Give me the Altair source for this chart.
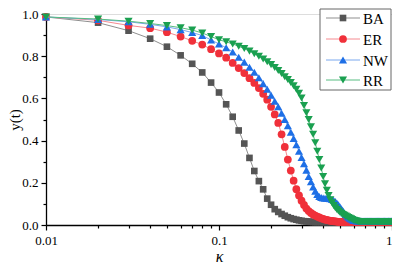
import altair as alt
import pandas as pd

kappa = [0.01, 0.02, 0.03, 0.04, 0.05, 0.06, 0.07, 0.08, 0.09, 0.10,
         0.11, 0.12, 0.13, 0.14, 0.15, 0.16, 0.17, 0.18, 0.19, 0.20,
         0.21, 0.22, 0.23, 0.24, 0.25, 0.26, 0.27, 0.28, 0.29, 0.30,
         0.31, 0.32, 0.33, 0.34, 0.35, 0.36, 0.37, 0.38, 0.39, 0.40,
         0.41, 0.42, 0.43, 0.44, 0.45, 0.46, 0.47, 0.48, 0.49, 0.50,
         0.51, 0.52, 0.53, 0.54, 0.55, 0.56, 0.57, 0.58, 0.59, 0.60,
         0.61, 0.62, 0.63, 0.64, 0.65, 0.66, 0.67, 0.68, 0.69, 0.70,
         0.71, 0.72, 0.73, 0.74, 0.75, 0.76, 0.77, 0.78, 0.79, 0.80,
         0.81, 0.82, 0.83, 0.84, 0.85, 0.86, 0.87, 0.88, 0.89, 0.90,
         0.91, 0.92, 0.93, 0.94, 0.95, 0.96, 0.97, 0.98, 0.99, 1.00]

ba = [0.986, 0.959, 0.921, 0.883, 0.845, 0.804, 0.764, 0.723, 0.675, 0.628,
      0.572, 0.513, 0.448, 0.386, 0.318, 0.256, 0.208, 0.169, 0.125, 0.096,
      0.075, 0.062, 0.052, 0.044, 0.037, 0.032, 0.028, 0.025, 0.022, 0.020,
      0.018, 0.017, 0.016, 0.015, 0.014, 0.014, 0.014, 0.014, 0.014, 0.014,
      0.014, 0.014, 0.014, 0.014, 0.014, 0.014, 0.014, 0.014, 0.014, 0.014,
      0.014, 0.014, 0.014, 0.014, 0.014, 0.014, 0.014, 0.014, 0.014, 0.014,
      0.014, 0.014, 0.014, 0.014, 0.014, 0.014, 0.014, 0.014, 0.014, 0.014,
      0.014, 0.014, 0.014, 0.014, 0.014, 0.014, 0.014, 0.014, 0.014, 0.014,
      0.014, 0.014, 0.014, 0.014, 0.014, 0.014, 0.014, 0.014, 0.014, 0.014,
      0.014, 0.014, 0.014, 0.014, 0.014, 0.014, 0.014, 0.014, 0.014, 0.014]

er = [0.986, 0.970, 0.946, 0.933, 0.914, 0.893, 0.873, 0.855, 0.833, 0.813,
      0.793, 0.768, 0.744, 0.720, 0.696, 0.673, 0.649, 0.622, 0.594, 0.560,
      0.524, 0.484, 0.430, 0.370, 0.310, 0.258, 0.210, 0.170, 0.140, 0.115,
      0.095, 0.078, 0.066, 0.057, 0.050, 0.045, 0.040, 0.036, 0.032, 0.029,
      0.026, 0.024, 0.022, 0.020, 0.019, 0.018, 0.017, 0.016, 0.015, 0.014,
      0.014, 0.014, 0.014, 0.014, 0.014, 0.014, 0.014, 0.014, 0.014, 0.014,
      0.014, 0.014, 0.014, 0.014, 0.014, 0.014, 0.014, 0.014, 0.014, 0.014,
      0.014, 0.014, 0.014, 0.014, 0.014, 0.014, 0.014, 0.014, 0.014, 0.014,
      0.014, 0.014, 0.014, 0.014, 0.014, 0.014, 0.014, 0.014, 0.014, 0.014,
      0.014, 0.014, 0.014, 0.014, 0.014, 0.014, 0.014, 0.014, 0.014, 0.014]

nw = [0.986, 0.974, 0.963, 0.951, 0.939, 0.926, 0.912, 0.898, 0.877, 0.858,
      0.840, 0.820, 0.795, 0.772, 0.748, 0.724, 0.698, 0.670, 0.643, 0.615,
      0.587, 0.560, 0.530, 0.500, 0.470, 0.440, 0.410, 0.380, 0.350, 0.320,
      0.290, 0.260, 0.230, 0.205, 0.180, 0.160, 0.145, 0.135, 0.130, 0.128,
      0.127, 0.127, 0.126, 0.124, 0.121, 0.117, 0.111, 0.104, 0.096, 0.087,
      0.077, 0.067, 0.058, 0.050, 0.043, 0.037, 0.032, 0.028, 0.025, 0.022,
      0.021, 0.020, 0.019, 0.019, 0.019, 0.019, 0.019, 0.019, 0.019, 0.019,
      0.019, 0.019, 0.019, 0.019, 0.019, 0.019, 0.019, 0.019, 0.019, 0.019,
      0.019, 0.019, 0.019, 0.019, 0.019, 0.019, 0.019, 0.019, 0.019, 0.019,
      0.019, 0.019, 0.019, 0.019, 0.019, 0.019, 0.019, 0.019, 0.019, 0.019]

rr = [0.986, 0.976, 0.966, 0.955, 0.945, 0.935, 0.924, 0.910, 0.893, 0.878,
      0.868, 0.858, 0.847, 0.836, 0.824, 0.812, 0.800, 0.787, 0.774, 0.760,
      0.746, 0.732, 0.718, 0.703, 0.690, 0.675, 0.660, 0.643, 0.624, 0.602,
      0.566, 0.532, 0.500, 0.465, 0.430, 0.390, 0.350, 0.310, 0.270, 0.230,
      0.195, 0.165, 0.140, 0.120, 0.105, 0.092, 0.082, 0.073, 0.066, 0.060,
      0.055, 0.050, 0.046, 0.042, 0.039, 0.035, 0.032, 0.029, 0.026, 0.023,
      0.021, 0.019, 0.018, 0.016, 0.016, 0.016, 0.016, 0.016, 0.016, 0.016,
      0.016, 0.016, 0.016, 0.016, 0.016, 0.016, 0.016, 0.016, 0.016, 0.016,
      0.016, 0.016, 0.016, 0.016, 0.016, 0.016, 0.016, 0.016, 0.016, 0.016,
      0.016, 0.016, 0.016, 0.016, 0.016, 0.016, 0.016, 0.016, 0.016, 0.016]

series = ["BA", "ER", "NW", "RR"]
x_major = [0.01, 0.1, 1]
x_minor = [0.02, 0.03, 0.04, 0.05, 0.06, 0.07, 0.08, 0.09,
           0.2, 0.3, 0.4, 0.5, 0.6, 0.7, 0.8, 0.9]
y_major = [0.0, 0.2, 0.4, 0.6, 0.8, 1.0]
y_minor = [0.1, 0.3, 0.5, 0.7, 0.9]

marker_colors = ["#555555", "#F0303A", "#1E6FE6", "#1AA050"]
line_colors = ["#8f8f8f", "#f58a90", "#7aa8ee", "#58bd82"]
shapes = ["square", "circle", "triangle-up", "triangle-down"]
sizes = [44, 60, 66, 66]

rows = []
for name, vals in zip(series, [ba, er, nw, rr]):
    for k, v in zip(kappa, vals):
        rows.append({"kappa": k, "y": v, "series": name})
df = pd.DataFrame(rows)

FONT = "Liberation Serif"

x_test = " || ".join(f"datum.value == {v}" for v in x_major)
y_test = "round(datum.value * 10) % 2 == 0"

x_axis = alt.Axis(
    values=x_major + x_minor,
    labelExpr=f"({x_test}) ? datum.label : ''",
    format="~g",
    labelAlign={"condition": {"test": "datum.value == 1", "value": "right"},
                "value": "center"},
    tickSize={"condition": {"test": x_test, "value": 5}, "value": 3},
    title="κ", titleFontStyle="italic", titleFontWeight="normal",
    titleFontSize=16, titlePadding=1,
    labelFontSize=13, labelPadding=4, labelOverlap=False, labelFlush=False,
    grid=False, domainColor="black", tickColor="black", labelColor="black",
    domainWidth=1.3, tickWidth=1.2, titleColor="black",
)
y_axis = alt.Axis(
    values=y_major + y_minor,
    labelExpr=f"({y_test}) ? format(datum.value, '.1f') : ''",
    tickSize={"condition": {"test": y_test, "value": 5}, "value": 3},
    title="y(t)", titleFontWeight="normal", titleFontSize=15, titlePadding=-1,
    labelFontSize=13, labelPadding=3, labelOverlap=False, labelFlush=False,
    grid=False, domainColor="black", tickColor="black", labelColor="black",
    domainWidth=1.3, tickWidth=1.2, titleColor="black",
)

X = alt.X("kappa:Q", scale=alt.Scale(type="log", domain=[0.01, 1]), axis=x_axis)
Y = alt.Y("y:Q", scale=alt.Scale(domain=[0, 1]), axis=y_axis)

base = alt.Chart(df)
layers = []
for name, mc, lc, sh, sz in zip(series, marker_colors, line_colors, shapes, sizes):
    sub = base.transform_filter(alt.datum.series == name)
    layers.append(sub.mark_line(color=lc, strokeWidth=1).encode(x=X, y=Y))
    layers.append(sub.mark_point(shape=sh, filled=True, color=mc, size=sz,
                                 opacity=1).encode(x=X, y=Y))

# legend box
box = alt.Chart(pd.DataFrame({"k": [0]})).mark_rect(
    fill="white", stroke="#666666", strokeWidth=1
).encode(x=alt.value(274), x2=alt.value(345), y=alt.value(-5), y2=alt.value(76))
layers.append(box)
row_y = [4, 25, 46, 66]
for name, mc, lc, sh, sz, ry in zip(series, marker_colors, line_colors, shapes, sizes, row_y):
    d = alt.Chart(pd.DataFrame({"series": [name]}))
    layers.append(d.mark_rule(color=lc, strokeWidth=1).encode(
        x=alt.value(280), x2=alt.value(314), y=alt.value(ry)))
    layers.append(d.mark_point(shape=sh, filled=True, color=mc, size=sz,
                               opacity=1).encode(x=alt.value(297), y=alt.value(ry)))
    layers.append(d.mark_text(text=name, align="left", baseline="middle",
                              font=FONT, fontSize=15, color="black").encode(
        x=alt.value(317), y=alt.value(ry + 1)))

chart = alt.layer(*layers).properties(
    width=346, height=211,
    autosize=alt.AutoSizeParams(type="none"),
    padding={"left": 38, "top": 6, "right": 0, "bottom": 40},
).configure_view(stroke=None).configure(font=FONT)

chart.save("out.html", embed_options={"renderer": "svg", "actions": False})
